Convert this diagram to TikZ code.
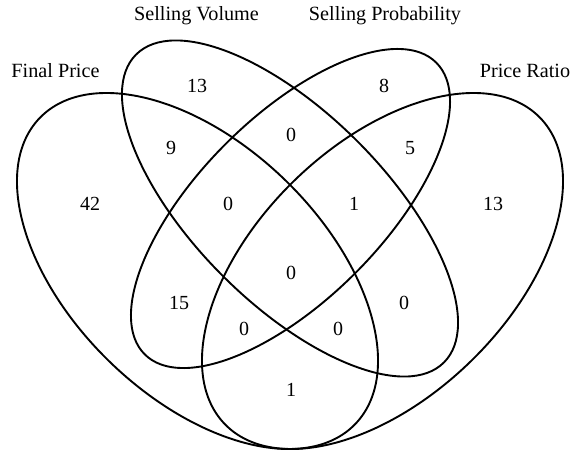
\documentclass[tikz,border=0pt]{standalone}
\usepackage{fontspec}
\setmainfont{Liberation Serif}
\begin{document}
\begin{tikzpicture}[x=1pt,y=1pt,
  setline/.style={line width=1.9pt,black},
  lbl/.style={font=\fontsize{20.2}{23}\selectfont,inner sep=0pt,anchor=center},
  num/.style={font=\fontsize{20}{23}\selectfont,inner sep=0pt,anchor=center}]
\useasboundingbox (0,0) rectangle (574,453);
% ellipses (y-up coordinates)
\draw[setline,rotate around={-44.2:(197.5,182)}] (197.5,182) ellipse [x radius=219.8,y radius=126.3];
\draw[setline,rotate around={44.2:(382.5,182)}] (382.5,182) ellipse [x radius=219.8,y radius=126.3];
\draw[setline,rotate around={-45:(290,244.5)}] (290,244.5) ellipse [x radius=217.7,y radius=95.2];
\draw[setline,rotate around={45:(290.5,244.5)}] (290.5,244.5) ellipse [x radius=206.2,y radius=91.5];
% set labels
\node[lbl] (fp) at (55.5,382) {Final Price};
\node[lbl] (sv) at (196.5,437) {Selling Volume};
\node[lbl] (sp) at (385,437) {Selling Probability};
\node[lbl] (pr) at (525,382) {Price Ratio};
% region counts
\node[num] (n1) at (197,367) {13};
\node[num] (n2) at (384,367) {8};
\node[num] (n3) at (171,305) {9};
\node[num] (n4) at (291,318) {0};
\node[num] (n5) at (410,305) {5};
\node[num] (n6) at (90,249) {42};
\node[num] (n7) at (228,249) {0};
\node[num] (n8) at (354,249) {1};
\node[num] (n9) at (493,249) {13};
\node[num] (n10) at (291,180) {0};
\node[num] (n11) at (179,150) {15};
\node[num] (n12) at (404,150) {0};
\node[num] (n13) at (244,124) {0};
\node[num] (n14) at (338,124) {0};
\node[num] (n15) at (291,63) {1};
\end{tikzpicture}
\end{document}
